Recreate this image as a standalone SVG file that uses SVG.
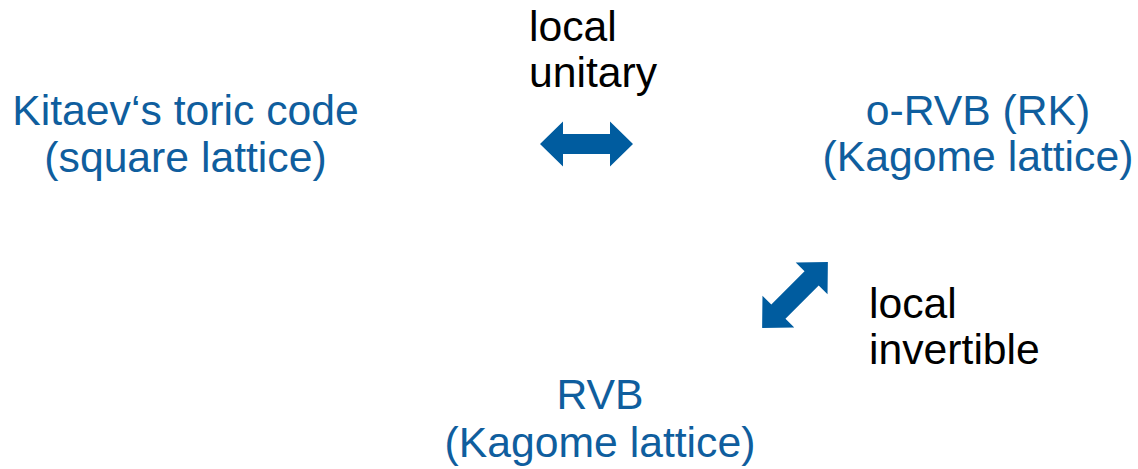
<svg xmlns="http://www.w3.org/2000/svg" width="1138" height="469" viewBox="0 0 1138 469">
<style>
.t{font-family:"Liberation Sans",Arial,sans-serif;font-size:42.7px}
.b{fill:#0F5E9E;text-anchor:middle}
.k{fill:#000000}
.arr{fill:#005C9F}
</style>
<defs>
<path id="dbl" d="M-46.5,0 L-23.5,-22.5 L-23.5,-10 L23.5,-10 L23.5,-22.5 L46.5,0 L23.5,22.5 L23.5,10 L-23.5,10 L-23.5,22.5 Z"/>
</defs>
<rect width="1138" height="469" fill="#ffffff"/>
<g id="kitaev">
<text class="t b" x="185.5" y="125">Kitaev‘s toric code</text>
<text class="t b" x="185.5" y="172">(square lattice)</text>
</g>
<g id="orvb">
<text class="t b" x="978" y="125">o-RVB (RK)</text>
<text class="t b" x="978" y="171">(Kagome lattice)</text>
</g>
<g id="rvb">
<text class="t b" x="600" y="409">RVB</text>
<text class="t b" x="600" y="457">(Kagome lattice)</text>
</g>
<g id="connectors">
<use href="#dbl" class="arr" transform="translate(586.5,144)"/>
<use href="#dbl" class="arr" transform="translate(795,295) rotate(-45)"/>
<text class="t k" x="529" y="41">local</text>
<text class="t k" x="529" y="87">unitary</text>
<text class="t k" x="869" y="318">local</text>
<text class="t k" x="869" y="364">invertible</text>
</g>
</svg>
